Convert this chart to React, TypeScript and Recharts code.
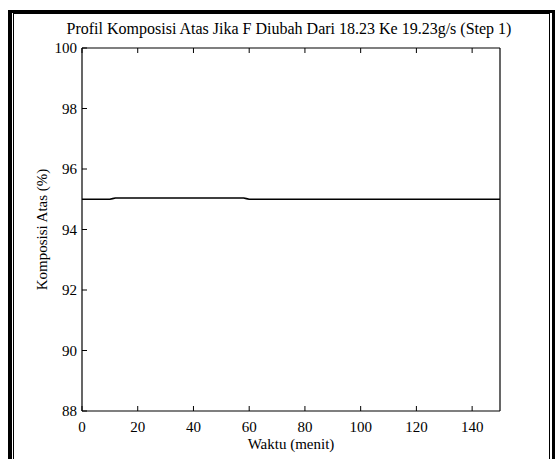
import React from 'react';
import { LineChart, Line, XAxis, YAxis } from 'recharts';

const TIME = [0, 10, 11, 12, 58, 59, 60, 100, 150];
const COMPOSITION = [95.0, 95.0, 95.02, 95.04, 95.04, 95.02, 95.0, 95.0, 95.0];
const X_TICKS = [0, 20, 40, 60, 80, 100, 120, 140];
const Y_TICKS = [88, 90, 92, 94, 96, 98, 100];

const TITLE = 'Profil Komposisi Atas Jika F Diubah Dari 18.23 Ke 19.23g/s (Step 1)';
const X_LABEL = 'Waktu (menit)';
const Y_LABEL = 'Komposisi Atas (%)';

const data = TIME.map((t, i) => ({ t, v: COMPOSITION[i] }));

const FONT = "'Liberation Serif', 'Times New Roman', Times, 'DejaVu Serif', 'Noto Serif', serif";
const TICK_LEN = 5;

const BottomTick = (props: any) => {
  const { x, y, payload } = props;
  const axisY = y - 10;
  return (
    <g>
      <line x1={x} y1={axisY} x2={x} y2={axisY - TICK_LEN} stroke="#000" strokeWidth={1} />
      <text x={x} y={y} dy="0.71em" textAnchor="middle" fontFamily={FONT} fontSize={15} fill="#000">{payload.value}</text>
    </g>
  );
};

const LeftTick = (props: any) => {
  const { x, y, payload } = props;
  const axisX = x + 5;
  return (
    <g>
      <line x1={axisX} y1={y} x2={axisX + TICK_LEN} y2={y} stroke="#000" strokeWidth={1} />
      <text x={x} y={y} dy="0.355em" textAnchor="end" fontFamily={FONT} fontSize={15} fill="#000">{payload.value}</text>
    </g>
  );
};

const TopTick = (props: any) => {
  const { x, y } = props;
  return <line x1={x} y1={y} x2={x} y2={y + TICK_LEN} stroke="#000" strokeWidth={1} />;
};

const RightTick = (props: any) => {
  const { x, y } = props;
  return <line x1={x} y1={y} x2={x - TICK_LEN} y2={y} stroke="#000" strokeWidth={1} />;
};

export default function App() {
  const W = 555;
  const H = 459;
  return (
    <div style={{ position: 'absolute', left: 0, top: 0, width: W, height: H, overflow: 'hidden', background: '#fff' }}>
      <div style={{ position: 'absolute', left: 8, top: 10, width: 540, height: 470, borderLeft: '4px solid #000', borderTop: '3px solid #000', borderRight: '3px solid #000' }} />
      <div style={{ position: 'absolute', left: 13, top: 13, width: 535, height: 470, border: '1px solid #000' }} />
      <div style={{ position: 'absolute', left: 0, top: 0 }}>
        <LineChart width={W} height={H} data={data} margin={{ top: 48, right: 55, bottom: 18, left: 22 }}>
          <XAxis xAxisId="x" dataKey="t" type="number" domain={[0, 150]} ticks={X_TICKS} orientation="bottom" height={30}
            tickLine={false} tickSize={0} tickMargin={10} axisLine={{ stroke: '#000', strokeWidth: 1.2 }} tick={<BottomTick />} interval={0} />
          <XAxis xAxisId="xt" dataKey="t" type="number" domain={[0, 150]} ticks={X_TICKS} orientation="top" mirror
            tickLine={false} tickSize={0} tickMargin={0} axisLine={{ stroke: '#000', strokeWidth: 1.2 }} tick={<TopTick />} interval={0} />
          <YAxis yAxisId="y" type="number" domain={[88, 100]} ticks={Y_TICKS} orientation="left" width={60}
            tickLine={false} tickSize={0} tickMargin={5} axisLine={{ stroke: '#000', strokeWidth: 1.2 }} tick={<LeftTick />} interval={0} />
          <YAxis yAxisId="yr" type="number" domain={[88, 100]} ticks={Y_TICKS} orientation="right" mirror
            tickLine={false} tickSize={0} tickMargin={0} axisLine={{ stroke: '#000', strokeWidth: 1.2 }} tick={<RightTick />} interval={0} />
          <Line xAxisId="x" yAxisId="y" type="linear" dataKey="v" stroke="#000" strokeWidth={1.6} dot={false} isAnimationActive={false} />
        </LineChart>
      </div>
      <svg width={W} height={H} style={{ position: 'absolute', left: 0, top: 0, pointerEvents: 'none' }}>
        <text x={289} y={34} textAnchor="middle" fontFamily={FONT} fontSize={16} fill="#000">{TITLE}</text>
        <text x={291} y={449} textAnchor="middle" fontFamily={FONT} fontSize={15} fill="#000">{X_LABEL}</text>
        <text x={0} y={0} transform="translate(47,229.5) rotate(-90)" textAnchor="middle" fontFamily={FONT} fontSize={15} fill="#000">{Y_LABEL}</text>
      </svg>
    </div>
  );
}
